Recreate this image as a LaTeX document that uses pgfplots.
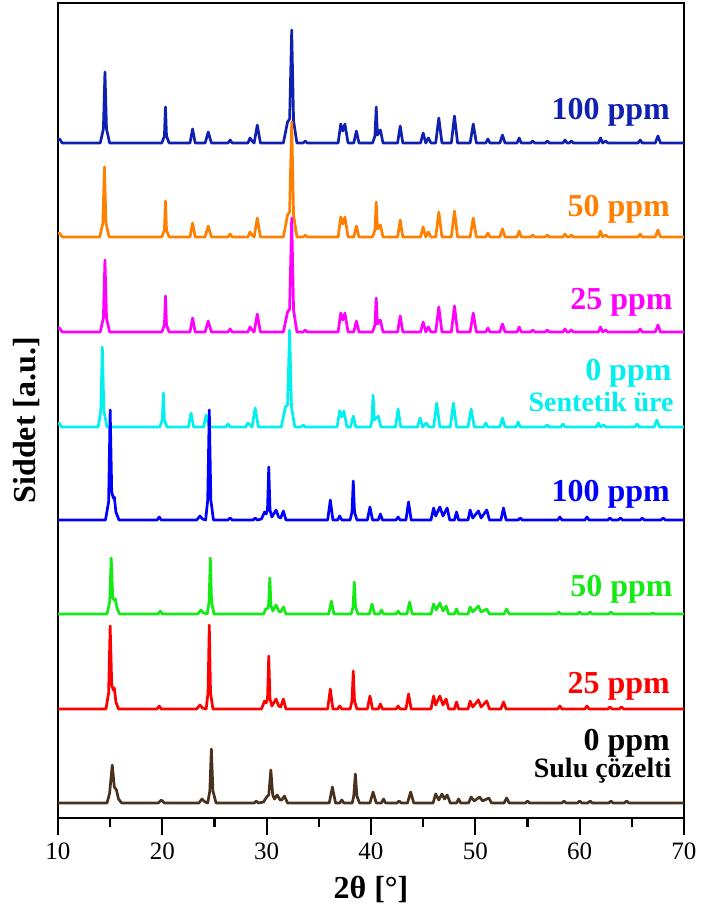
\documentclass[border=0pt]{standalone}
\usepackage{fontspec}
\setmainfont{Liberation Serif}
\usepackage{pgfplots}
\usepackage{pgfplotstable}
\pgfplotsset{compat=1.18}

\definecolor{cA}{RGB}{16,32,176}
\definecolor{cB}{RGB}{255,128,0}
\definecolor{cC}{RGB}{255,0,255}
\definecolor{cD}{RGB}{0,240,240}
\definecolor{cE}{RGB}{0,0,255}
\definecolor{cF}{RGB}{20,235,20}
\definecolor{cG}{RGB}{255,0,0}
\definecolor{cH}{RGB}{72,50,30}

\begin{document}

% heights above each curve's own baseline
\pgfplotstableread{
x y
10.0 3
10.15 4
10.4 0
14.05 0
14.35 14
14.5 71
14.65 14
14.95 0
19.95 0
20.2 7
20.3 36
20.4 7
20.65 0
22.65 0
22.9 14
23.15 0
24.1 0
24.4 11
24.7 0
26.3 0
26.5 3
26.7 0
28.2 0
28.4 5
28.6 2
28.8 0
29.1 18
29.4 0
31.6 0
32.0 21
32.2 24
32.4 113
32.58 22
32.9 0
33.5 0
33.7 2
33.9 0
36.85 0
37.1 19
37.3 12
37.5 19
37.8 0
38.35 0
38.6 12
38.85 0
40.15 0
40.38 7
40.5 36
40.62 8
40.9 13
41.15 0
42.55 0
42.8 17
43.05 0
44.75 0
45.0 10
45.25 0
45.5 5
45.75 0
46.2 0
46.5 25
46.8 0
47.7 0
48.0 27
48.3 0
49.5 0
49.8 19
50.1 0
51.0 0
51.2 4
51.4 0
52.35 0
52.6 8
52.85 0
54.0 0
54.2 5
54.4 0
55.3 0
55.5 2
55.7 0
56.7 0
56.9 2
57.1 0
58.4 0
58.6 3
58.8 0
59.0 0
59.2 2
59.4 0
61.8 0
62.0 5
62.2 0
62.5 2
62.7 0
65.6 0
65.8 3
66.0 0
67.25 0
67.5 7
67.75 0
70.0 0
}\dataA

\pgfplotstableread{
x y
10.0 3
10.15 4
10.4 0
14.0 0
14.3 14
14.45 70
14.6 14
14.9 0
19.95 0
20.2 7
20.3 36
20.4 7
20.65 0
22.65 0
22.9 14
23.15 0
24.1 0
24.4 11
24.7 0
26.3 0
26.5 3
26.7 0
28.2 0
28.4 5
28.6 2
28.8 0
29.1 19
29.4 0
31.6 0
32.0 22
32.2 25
32.4 115
32.58 22
32.9 0
33.5 0
33.7 2
33.9 0
36.85 0
37.1 20
37.3 13
37.5 20
37.8 0
38.35 0
38.6 11
38.85 0
40.15 0
40.38 7
40.5 35
40.62 8
40.9 12
41.15 0
42.55 0
42.8 17
43.05 0
44.75 0
45.0 10
45.25 0
45.5 5
45.75 0
46.2 0
46.5 25
46.8 0
47.7 0
48.0 26
48.3 0
49.5 0
49.8 19
50.1 0
51.0 0
51.2 4
51.4 0
52.35 0
52.6 8
52.85 0
54.0 0
54.2 6
54.4 0
55.3 0
55.5 2
55.7 0
56.7 0
56.9 2
57.1 0
58.4 0
58.6 3
58.8 0
59.0 0
59.2 2
59.4 0
61.8 0
62.0 6
62.2 0
62.5 2
62.7 0
65.6 0
65.8 3
66.0 0
67.25 0
67.5 7
67.75 0
70.0 0
}\dataB

\pgfplotstableread{
x y
10.0 3
10.15 4
10.4 0
14.05 0
14.35 14
14.5 72
14.65 14
14.95 0
19.95 0
20.2 7
20.3 36
20.4 7
20.65 0
22.65 0
22.9 14
23.15 0
24.1 0
24.4 11
24.7 0
26.3 0
26.5 3
26.7 0
28.2 0
28.4 5
28.6 2
28.8 0
29.1 18
29.4 0
31.6 0
32.0 20
32.2 23
32.4 114
32.58 22
32.9 0
33.5 0
33.7 2
33.9 0
36.85 0
37.1 19
37.3 12
37.5 19
37.8 0
38.35 0
38.6 11
38.85 0
40.15 0
40.38 7
40.5 34
40.62 8
40.9 12
41.15 0
42.55 0
42.8 16
43.05 0
44.75 0
45.0 10
45.25 0
45.5 5
45.75 0
46.2 0
46.5 25
46.8 0
47.7 0
48.0 26
48.3 0
49.5 0
49.8 19
50.1 0
51.0 0
51.2 4
51.4 0
52.35 0
52.6 8
52.85 0
54.0 0
54.2 5
54.4 0
55.3 0
55.5 2
55.7 0
56.7 0
56.9 2
57.1 0
58.4 0
58.6 3
58.8 0
59.0 0
59.2 2
59.4 0
61.8 0
62.0 5
62.2 0
62.5 2
62.7 0
65.6 0
65.8 3
66.0 0
67.25 0
67.5 7
67.75 0
70.0 0
}\dataC

\pgfplotstableread{
x y
10.0 2
10.1 4
10.35 0
13.85 0
14.1 16
14.25 80
14.4 16
14.7 0
19.75 0
20.0 7
20.1 34
20.2 7
20.45 0
22.5 0
22.75 14
23.0 0
23.95 0
24.2 12
24.5 0
26.1 0
26.3 3
26.5 0
28.0 0
28.2 4
28.4 2
28.6 0
28.9 19
29.2 0
31.4 0
31.8 20
32.0 22
32.2 97
32.38 20
32.7 0
33.3 0
33.5 2
33.7 0
36.75 0
37.0 16
37.2 10
37.4 16
37.7 0
38.05 0
38.3 11
38.55 0
39.95 0
40.08 6
40.2 32
40.32 7
40.7 11
40.95 0
42.35 0
42.6 18
42.85 0
44.45 0
44.7 9
44.95 0
45.3 4
45.55 0
46.0 0
46.3 24
46.6 0
47.6 0
47.9 24
48.2 0
49.3 0
49.6 18
49.9 0
50.8 0
51.0 4
51.2 0
52.35 0
52.6 9
52.85 0
53.9 0
54.1 5
54.3 0
56.7 0
56.9 2
57.1 0
58.2 0
58.4 3
58.6 0
61.6 0
61.8 4
62.0 0
62.3 2
62.5 0
65.3 0
65.5 3
65.7 0
67.15 0
67.4 7
67.65 0
70.0 0
}\dataD

\pgfplotstableread{
x y
10.0 0
14.55 0
14.85 18
15.0 110
15.15 28
15.3 22
15.4 23
15.55 8
15.85 0
19.5 0
19.7 3
19.9 0
23.3 0
23.6 4
23.85 1
24.15 0
24.35 20
24.5 110
24.65 20
24.9 0
26.3 0
26.5 2
26.7 0
28.7 0
28.9 2
29.1 0
29.5 1
29.8 8
29.95 6
30.08 10
30.2 53
30.32 10
30.5 3
30.9 10
31.15 3
31.35 2
31.6 9
31.85 0
35.85 0
36.1 20
36.35 0
36.8 0
37.0 4
37.2 0
38.0 0
38.18 8
38.3 39
38.42 8
38.65 0
39.65 0
39.9 13
40.15 0
40.7 0
40.9 6
41.1 0
42.4 0
42.6 3
42.8 0
43.35 0
43.6 18
43.85 0
45.75 0
46.0 12
46.2 4
46.6 13
46.9 4
47.3 12
47.55 0
48.0 0
48.2 8
48.4 0
49.3 0
49.5 10
49.75 2
50.3 9
50.55 2
51.1 10
51.35 0
52.45 0
52.7 12
52.95 0
54.1 0
54.3 2
54.5 0
57.9 0
58.1 3
58.3 0
60.5 0
60.7 3
60.9 0
62.7 0
62.9 2
63.1 0
63.7 0
63.9 2
64.1 0
65.8 0
66.0 2
66.2 0
67.8 0
68.0 2
68.2 0
70.0 0
}\dataE

\pgfplotstableread{
x y
10.0 0
14.7 0
14.95 12
15.1 56
15.25 16
15.4 14
15.5 15
15.65 6
15.9 0
19.6 0
19.8 3
20.0 0
23.4 0
23.7 4
23.95 1
24.3 0
24.48 12
24.6 56
24.72 12
24.95 0
29.7 0
29.9 5
30.05 5
30.18 8
30.3 36
30.42 8
30.6 3
30.9 9
31.15 3
31.35 2
31.6 7
31.85 0
35.95 0
36.2 13
36.45 0
38.1 0
38.28 7
38.4 32
38.52 7
38.75 0
39.85 0
40.1 10
40.35 0
40.8 0
41.0 4
41.2 0
42.4 0
42.6 3
42.8 0
43.45 0
43.7 12
43.95 0
45.75 0
46.0 10
46.25 4
46.6 11
46.9 3
47.2 8
47.45 0
48.0 0
48.2 5
48.4 0
49.3 0
49.5 7
49.75 2
50.3 8
50.55 2
51.1 5
51.35 0
52.75 0
53.0 5
53.25 0
57.8 0
58.0 2
58.2 0
59.8 0
60.0 2
60.2 0
60.8 0
61.0 2
61.2 0
62.8 0
63.0 2
63.2 0
66.8 0
67.0 1
67.2 0
70.0 0
}\dataF

\pgfplotstableread{
x y
10.0 0
14.6 0
14.85 16
15.0 83
15.15 24
15.3 19
15.4 21
15.55 7
15.8 0
19.5 0
19.7 3
19.9 0
23.3 0
23.6 4
23.85 1
24.2 0
24.38 16
24.5 84
24.62 16
24.85 0
29.5 0
29.8 8
29.95 6
30.08 10
30.2 53
30.32 10
30.5 3
30.9 10
31.15 3
31.35 2
31.6 10
31.85 0
35.85 0
36.1 20
36.35 0
36.8 0
37.0 3
37.2 0
38.0 0
38.18 8
38.3 38
38.42 8
38.65 0
39.65 0
39.9 13
40.15 0
40.7 0
40.9 5
41.1 0
42.4 0
42.6 3
42.8 0
43.35 0
43.6 15
43.85 0
45.75 0
46.0 13
46.2 4
46.6 13
46.9 4
47.2 10
47.45 0
48.0 0
48.2 7
48.4 0
49.3 0
49.5 8
49.75 2
50.3 9
50.55 2
51.1 8
51.35 0
52.45 0
52.7 7
52.95 0
57.9 0
58.1 3
58.3 0
60.5 0
60.7 3
60.9 0
62.7 0
62.9 2
63.1 0
63.8 0
64.0 2
64.2 0
70.0 0
}\dataG

\pgfplotstableread{
x y
10.0 0
14.7 0
14.95 10
15.2 38
15.4 16
15.6 13
15.8 4
16.1 0
19.6 0
19.9 3
20.2 0
23.5 0
23.8 4
24.1 1
24.35 0
24.55 12
24.7 54
24.85 12
25.15 0
28.8 0
29.0 2
29.2 0
29.7 1
30.0 6
30.2 8
30.4 33
30.58 8
30.75 4
31.0 8
31.3 3
31.45 3
31.7 7
32.0 0
36.0 0
36.3 16
36.6 0
37.0 0
37.2 3
37.4 0
38.2 0
38.35 7
38.5 29
38.65 7
38.9 0
39.9 0
40.2 11
40.5 0
41.0 0
41.2 4
41.4 0
42.5 0
42.7 2
42.9 0
43.5 0
43.8 11
44.1 0
45.95 0
46.2 9
46.5 3
46.8 9
47.05 4
47.3 8
47.6 0
48.2 0
48.4 4
48.6 0
49.35 0
49.6 6
49.9 2
50.4 6
50.7 2
51.3 5
51.55 0
52.75 0
53.0 5
53.25 0
54.8 0
55.0 2
55.2 0
58.3 0
58.5 2
58.7 0
59.8 0
60.0 2
60.2 0
60.8 0
61.0 2
61.2 0
62.8 0
63.0 2
63.2 0
64.3 0
64.5 2
64.7 0
70.0 0
}\dataH

\begin{tikzpicture}
\begin{axis}[
    scale only axis,
    width=313pt,
    height=407.5pt,
    xmin=10, xmax=70,
    ymin=0, ymax=815,
    xtick={10,20,...,70},
    minor xtick={15,25,...,65},
    ytick=\empty,
    xtick pos=left,
    xtick align=outside,
    major tick length=8.5pt,
    minor tick length=4.5pt,
    line width=1pt,
    tick style={black, line width=1pt},
    tick label style={font=\fontsize{12.5}{14}\selectfont},
    /pgf/number format/assume math mode=true,
    xlabel={\bfseries 2θ [°]},
    ylabel={\bfseries Siddet [a.u.]},
    label style={font=\fontsize{16}{18}\selectfont},
    xlabel style={at={(axis description cs:0.5,-0.088)}, anchor=center},
    ylabel style={at={(axis description cs:-0.0495,0.488)}, anchor=center, rotate=0},
    every axis plot/.append style={line width=1.35pt, no markers, line join=round},
]
\addplot[cA] table[x=x, y expr=\thisrow{y}+675] {\dataA};
\addplot[cB] table[x=x, y expr=\thisrow{y}+581] {\dataB};
\addplot[cC] table[x=x, y expr=\thisrow{y}+486] {\dataC};
\addplot[cD] table[x=x, y expr=\thisrow{y}+391] {\dataD};
\addplot[cE] table[x=x, y expr=\thisrow{y}+298] {\dataE};
\addplot[cF] table[x=x, y expr=\thisrow{y}+204] {\dataF};
\addplot[cG] table[x=x, y expr=\thisrow{y}+109] {\dataG};
\addplot[cH] table[x=x, y expr=\thisrow{y}+15] {\dataH};

\begin{scope}[every node/.style={anchor=base east, inner sep=0pt, font=\fontsize{16}{18}\selectfont\bfseries}]
\node[text=cA] at (axis cs:68.75,698) {100 ppm};
\node[text=cB] at (axis cs:68.75,601) {50 ppm};
\node[text=cC] at (axis cs:69.0,508) {25 ppm};
\node[text=cD] at (axis cs:68.9,437) {0 ppm};
\node[text=cD, font=\fontsize{14}{16}\selectfont\bfseries] at (axis cs:69.1,406) {Sentetik üre};
\node[text=cE] at (axis cs:68.75,316) {100 ppm};
\node[text=cF] at (axis cs:69.0,221) {50 ppm};
\node[text=cG] at (axis cs:68.75,124) {25 ppm};
\node[text=black] at (axis cs:68.75,68) {0 ppm};
\node[text=black, font=\fontsize{14}{16}\selectfont\bfseries] at (axis cs:68.9,40) {Sulu çözelti};
\end{scope}
\end{axis}
% outward tick marks under the x axis (major every 10, minor every 5)
\foreach \i in {0,...,6}
  \draw[black, line width=1pt] ([xshift=\i*52.16667pt]current axis.south west) -- ++(0,-8.5pt);
\foreach \i in {0,...,5}
  \draw[black, line width=1pt] ([xshift=26.08333pt+\i*52.16667pt]current axis.south west) -- ++(0,-4.5pt);
\path ([xshift=-29pt,yshift=-49pt]current axis.south west) rectangle ([xshift=5.5pt,yshift=1.5pt]current axis.north east);
\end{tikzpicture}
\end{document}
